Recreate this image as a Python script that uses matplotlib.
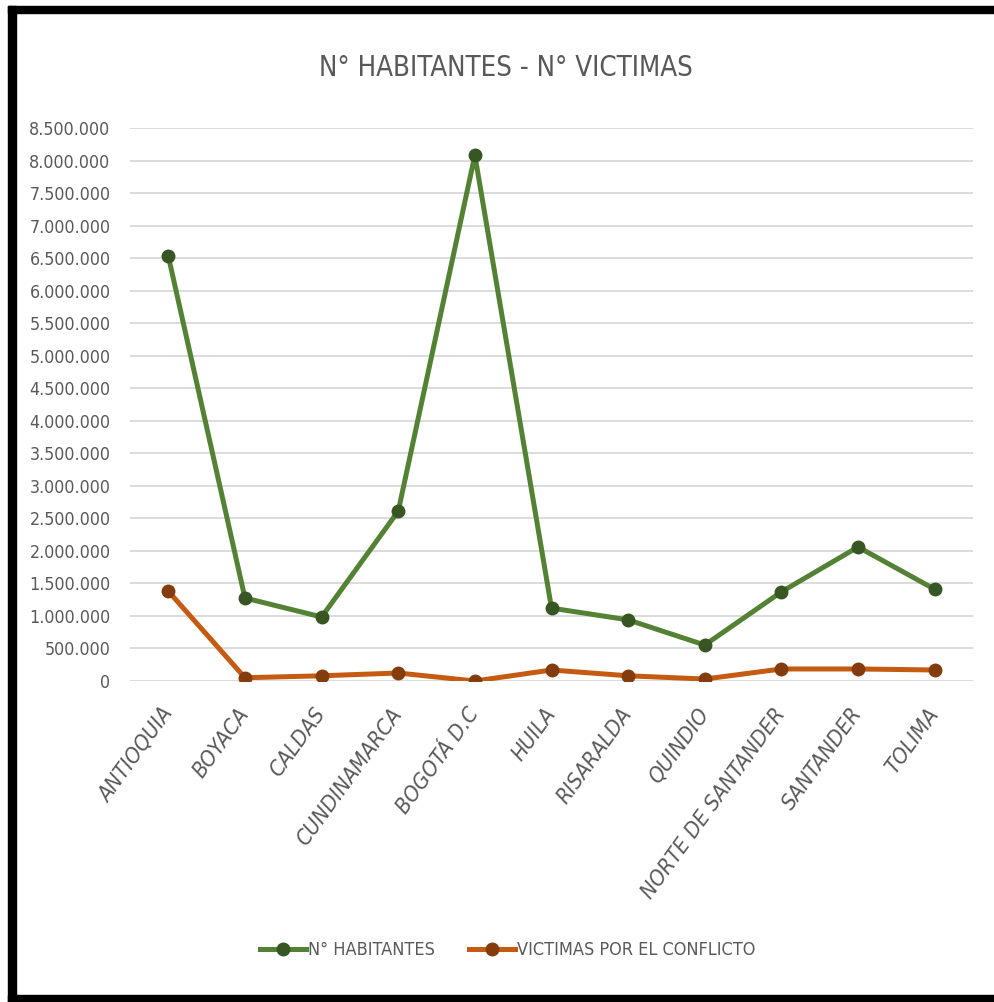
import matplotlib
matplotlib.use("Agg")
import matplotlib.pyplot as plt
from matplotlib import font_manager as fm
from matplotlib.lines import Line2D
from matplotlib.patches import Rectangle
from matplotlib.ticker import FuncFormatter, MultipleLocator

departamentos = ["ANTIOQUIA", "BOYACA", "CALDAS", "CUNDINAMARCA", "BOGOTÁ D.C",
                 "HUILA", "RISARALDA", "QUINDIO", "NORTE DE SANTANDER",
                 "SANTANDER", "TOLIMA"]
habitantes = [6530000, 1276000, 984000, 2610000, 8080000, 1120000,
              940000, 553000, 1370000, 2060000, 1410000]
victimas = [1380000, 50000, 80000, 123000, 0, 169000,
            80000, 30000, 185000, 185000, 169000]

# narrow font if we have one, the chart text is condensed
condensed = any(f.name == 'DejaVu Sans' and f.stretch == 'condensed'
                for f in fm.fontManager.ttflist)
if condensed:
    plt.rcParams['font.family'] = ['DejaVu Sans']
    plt.rcParams['font.stretch'] = 'condensed'
else:
    plt.rcParams['font.family'] = ['Lato', 'DejaVu Sans']

gray = '#595959'
green, green_dark = '#548235', '#375623'
orange, orange_dark = '#C55A11', '#843C0C'

W, H = 995, 1002
fig = plt.figure(figsize=(W / 100, H / 100), dpi=100)
ax = fig.add_axes([130 / W, (H - 681) / H, (973 - 130) / W, (681 - 128) / H])

x = range(len(departamentos))
ax.plot(x, habitantes, color=green, lw=3.6, marker='o', ms=9,
        mfc=green_dark, mec=green_dark, zorder=3)
ax.plot(x, victimas, color=orange, lw=3.6, marker='o', ms=9,
        mfc=orange_dark, mec=orange_dark, zorder=3)

ax.set_xlim(-0.5, len(departamentos) - 0.5)
ax.set_ylim(0, 8500000)
ax.yaxis.set_major_locator(MultipleLocator(500000))
ax.yaxis.set_major_formatter(FuncFormatter(lambda v, p: f"{v:,.0f}".replace(",", ".")))
ax.grid(axis='y', color='#D9D9D9', lw=1.3)
ax.set_axisbelow(True)
for s in ax.spines.values():
    s.set_visible(False)
ax.tick_params(length=0, labelcolor=gray)
ax.tick_params(axis='y', pad=14, labelsize=12.8)
ax.set_xticks(list(x))
ax.set_xticklabels(departamentos, rotation=54, ha='right', va='center',
                   rotation_mode='anchor', fontstyle='italic', fontsize=15.8)
ax.tick_params(axis='x', pad=21)

fig.text(506 / W, 1 - 68 / H, "N° HABITANTES - N° VICTIMAS", ha='center',
         va='center', fontsize=19.8, color=gray)

handles = [Line2D([], [], color=green, lw=3.6, marker='o', ms=9, mfc=green_dark, mec=green_dark),
           Line2D([], [], color=orange, lw=3.6, marker='o', ms=9, mfc=orange_dark, mec=orange_dark)]
fig.legend(handles, ["N° HABITANTES", "VICTIMAS POR EL CONFLICTO"], loc='center',
           bbox_to_anchor=(508 / W, 1 - 950 / H), ncol=2, frameon=False,
           fontsize=13, labelcolor=gray, handlelength=2.5, handletextpad=0.15,
           columnspacing=1.9)

# black frame of the picture
fig.patches.append(Rectangle((8 / W, 0), 8 / W, (H - 6) / H, transform=fig.transFigure,
                             color='black', zorder=10))
fig.patches.append(Rectangle((8 / W, 1 - 13 / H), 1, 7 / H, transform=fig.transFigure,
                             color='black', zorder=10))
fig.patches.append(Rectangle((8 / W, 0), 1, 7 / H, transform=fig.transFigure,
                             color='black', zorder=10))

fig.savefig("out.png", dpi=100)
